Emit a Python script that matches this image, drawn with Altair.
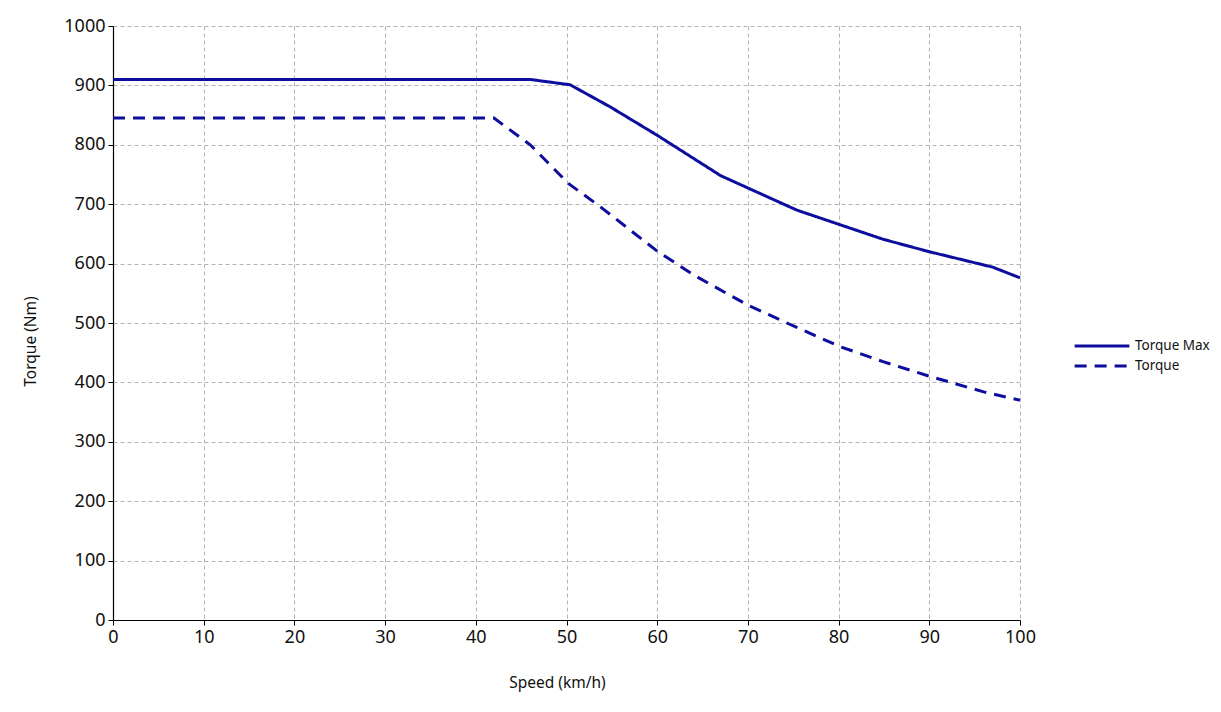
import altair as alt
import pandas as pd

# Data
max_speed = [0, 46, 50.4, 54.8, 60, 67, 75.4, 84.9, 90, 97, 100]
max_torque = [910, 910, 901, 864, 816, 748, 690, 641, 620, 594, 576]

tq_speed = [0, 42, 46, 50.2, 53.7, 60, 64, 70, 74.3, 80.2, 84.9, 90.1, 96, 100]
tq_torque = [845, 845, 800, 735, 696, 621, 581, 530, 500, 460, 435, 410, 384, 370]

series_names = ["Torque Max", "Torque"]

rows = []
for i, (s, t) in enumerate(zip(max_speed, max_torque)):
    rows.append({"speed": s, "torque": t, "series": series_names[0], "order": i})
for i, (s, t) in enumerate(zip(tq_speed, tq_torque)):
    rows.append({"speed": s, "torque": t, "series": series_names[1], "order": i})
df = pd.DataFrame(rows)

blue = "#0d0d9e"
font = "Noto Sans"

chart = (
    alt.Chart(df)
    .mark_line(strokeWidth=3)
    .encode(
        x=alt.X(
            "speed:Q",
            scale=alt.Scale(domain=[0, 100], nice=False),
            axis=alt.Axis(
                title="Speed (km/h)",
                values=list(range(0, 101, 10)),
                format="d",
                titleX=444,
                titleY=62,
                titleBaseline="middle",
            ),
        ),
        y=alt.Y(
            "torque:Q",
            scale=alt.Scale(domain=[0, 1000], nice=False),
            axis=alt.Axis(
                title="Torque (Nm)",
                values=list(range(0, 1001, 100)),
                format="d",
                titleX=-83,
                titleY=315,
                titleBaseline="middle",
                titleAngle=-90,
            ),
        ),
        color=alt.Color(
            "series:N",
            scale=alt.Scale(domain=series_names, range=[blue, blue]),
            legend=alt.Legend(title=None),
        ),
        strokeDash=alt.StrokeDash(
            "series:N",
            scale=alt.Scale(domain=series_names, range=[[1, 0], [12, 8]]),
            legend=alt.Legend(title=None),
        ),
        order="order:Q",
    )
    .properties(
        width=907,
        height=594,
        autosize=alt.AutoSizeParams(type="none"),
        padding={"left": 113, "top": 26, "right": 201, "bottom": 92},
    )
    .configure_view(stroke=None)
    .configure_axis(
        labelFont=font,
        titleFont=font,
        labelFontSize=18,
        titleFontSize=15.5,
        titleFontWeight="normal",
        labelColor="#111111",
        titleColor="#111111",
        domainColor="#000000",
        domainWidth=1.2,
        tickColor="#000000",
        tickSize=5,
        gridColor="#b4b4b4",
        gridDash=[4, 3],
        gridWidth=1,
        labelPadding=3,
        labelFlush=False,
        labelOverlap=False,
    )
    .configure_legend(
        orient="none",
        legendX=960,
        legendY=312,
        labelFont=font,
        labelFontSize=13.5,
        labelColor="#111111",
        symbolType="stroke",
        symbolSize=3000,
        symbolStrokeWidth=3,
        clipHeight=16,
        rowPadding=4,
        labelOffset=4,
    )
)

chart.save("out.html", embed_options={"renderer": "svg", "actions": False})
